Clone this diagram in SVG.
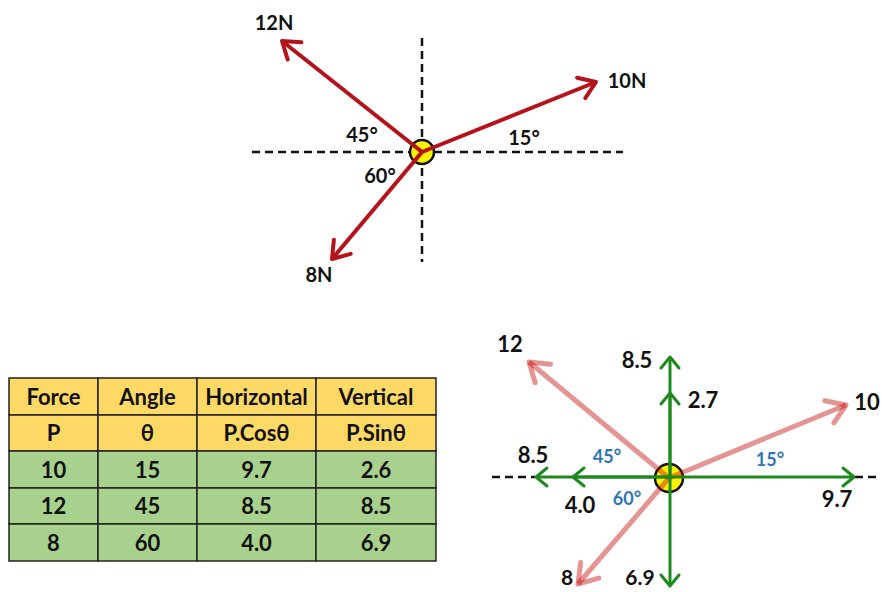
<svg xmlns="http://www.w3.org/2000/svg" width="882" height="592" viewBox="0 0 882 592">
<style>
.t{font-family:Lato,"Liberation Sans",sans-serif;font-weight:bold;fill:#111;text-anchor:middle}
.lbl{font-size:20px}
.rl{font-size:22px}
.bl{font-size:18px;fill:#2E75B6}
.tb{font-size:22px}
.dash{stroke:#111;stroke-width:2.5;stroke-dasharray:8 5;fill:none}
.red{stroke:#B5121B;stroke-width:4;fill:none}
.pink{stroke:#C00000;stroke-opacity:0.42;stroke-width:5;fill:none}
.grn{stroke:#1E8A1E;stroke-width:3;fill:none}
.hdr{fill:#FFD966;stroke:#222;stroke-width:1.5}
.cell{fill:#A9D18E;stroke:#222;stroke-width:1.5}
</style>
<defs>
<marker id="hr" markerUnits="userSpaceOnUse" viewBox="-22 -14 26 28" refX="0" refY="0" markerWidth="26" markerHeight="28" orient="auto">
<path d="M-16,-11 L0,0 L-16,11" fill="none" stroke="#B5121B" stroke-width="4" stroke-linecap="round" stroke-linejoin="round"/>
</marker>
<marker id="hp" markerUnits="userSpaceOnUse" viewBox="-24 -16 28 32" refX="0" refY="0" markerWidth="28" markerHeight="32" orient="auto">
<path d="M-18,-12 L0,0 L-18,12" fill="none" stroke="#C00000" stroke-opacity="0.42" stroke-width="5" stroke-linecap="round" stroke-linejoin="round"/>
</marker>
<marker id="hg" markerUnits="userSpaceOnUse" viewBox="-16 -12 20 24" refX="0" refY="0" markerWidth="20" markerHeight="24" orient="auto">
<path d="M-11,-9 L0,0 L-11,9" fill="none" stroke="#1E8A1E" stroke-width="3" stroke-linecap="round" stroke-linejoin="round"/>
</marker>
</defs>

<g id="top-diagram">
<g id="top-axes">
<line class="dash" x1="252" y1="152" x2="623" y2="152"/>
<line class="dash" x1="422" y1="38" x2="422" y2="262"/>
</g>
<g id="top-point">
<circle cx="422" cy="152" r="12" fill="#FFF200" stroke="#111" stroke-width="2.5"/>
</g>
<g id="top-connectors">
<line class="red" x1="422" y1="152" x2="596" y2="82" marker-end="url(#hr)"/>
<line class="red" x1="422" y1="152" x2="282" y2="41" marker-end="url(#hr)"/>
<line class="red" x1="422" y1="152" x2="332" y2="259" marker-end="url(#hr)"/>
</g>
<g id="top-labels">
<text class="t lbl" x="274" y="30">12N</text>
<text class="t lbl" x="627" y="88">10N</text>
<text class="t lbl" x="319" y="282">8N</text>
<text class="t lbl" x="362" y="142">45°</text>
<text class="t lbl" x="524" y="145">15°</text>
<text class="t lbl" x="380" y="183">60°</text>
</g>
</g>

<g id="table">
<rect class="hdr" x="9" y="378" width="89" height="37"/>
<rect class="hdr" x="98" y="378" width="99" height="37"/>
<rect class="hdr" x="197" y="378" width="119" height="37"/>
<rect class="hdr" x="316" y="378" width="120" height="37"/>
<rect class="hdr" x="9" y="415" width="89" height="36"/>
<rect class="hdr" x="98" y="415" width="99" height="36"/>
<rect class="hdr" x="197" y="415" width="119" height="36"/>
<rect class="hdr" x="316" y="415" width="120" height="36"/>
<rect class="cell" x="9" y="451" width="89" height="37"/>
<rect class="cell" x="98" y="451" width="99" height="37"/>
<rect class="cell" x="197" y="451" width="119" height="37"/>
<rect class="cell" x="316" y="451" width="120" height="37"/>
<rect class="cell" x="9" y="488" width="89" height="36"/>
<rect class="cell" x="98" y="488" width="99" height="36"/>
<rect class="cell" x="197" y="488" width="119" height="36"/>
<rect class="cell" x="316" y="488" width="120" height="36"/>
<rect class="cell" x="9" y="524" width="89" height="37"/>
<rect class="cell" x="98" y="524" width="99" height="37"/>
<rect class="cell" x="197" y="524" width="119" height="37"/>
<rect class="cell" x="316" y="524" width="120" height="37"/>
<text class="t tb" x="53.5" y="405">Force</text>
<text class="t tb" x="147.5" y="405">Angle</text>
<text class="t tb" x="256.5" y="405">Horizontal</text>
<text class="t tb" x="376" y="405">Vertical</text>
<text class="t tb" x="53.5" y="441">P</text>
<text class="t tb" x="147.5" y="441">θ</text>
<text class="t tb" x="256.5" y="441">P.Cosθ</text>
<text class="t tb" x="376" y="441">P.Sinθ</text>
<text class="t tb" x="53.5" y="478">10</text>
<text class="t tb" x="147.5" y="478">15</text>
<text class="t tb" x="256.5" y="478">9.7</text>
<text class="t tb" x="376" y="478">2.6</text>
<text class="t tb" x="53.5" y="514">12</text>
<text class="t tb" x="147.5" y="514">45</text>
<text class="t tb" x="256.5" y="514">8.5</text>
<text class="t tb" x="376" y="514">8.5</text>
<text class="t tb" x="53.5" y="551">8</text>
<text class="t tb" x="147.5" y="551">60</text>
<text class="t tb" x="256.5" y="551">4.0</text>
<text class="t tb" x="376" y="551">6.9</text>
</g>

<g id="right-diagram">
<g id="right-axes">
<line class="dash" x1="492" y1="477" x2="535" y2="477"/>
<line class="dash" x1="855" y1="477" x2="878" y2="477"/>
</g>
<g id="right-point">
<circle cx="669" cy="478" r="14" fill="#FFF200" stroke="#111" stroke-width="2.5"/>
</g>
<g id="right-connectors">
<line class="pink" x1="669" y1="478" x2="529" y2="362" marker-end="url(#hp)"/>
<line class="pink" x1="669" y1="478" x2="846" y2="405" marker-end="url(#hp)"/>
<line class="pink" x1="669" y1="478" x2="578" y2="584" marker-end="url(#hp)"/>
<line class="grn" x1="669" y1="477" x2="536" y2="477" marker-end="url(#hg)"/>
<line class="grn" x1="669" y1="477" x2="573" y2="477" marker-end="url(#hg)"/>
<line class="grn" x1="669" y1="477" x2="854" y2="477" marker-end="url(#hg)"/>
<line class="grn" x1="670" y1="478" x2="670" y2="357" marker-end="url(#hg)"/>
<line class="grn" x1="670" y1="478" x2="670" y2="393" marker-end="url(#hg)"/>
<line class="grn" x1="670" y1="478" x2="670" y2="586" marker-end="url(#hg)"/>
</g>
<g id="right-labels">
<text class="t rl" x="510" y="352">12</text>
<text class="t rl" x="637" y="368">8.5</text>
<text class="t rl" x="703" y="408">2.7</text>
<text class="t rl" x="867" y="410">10</text>
<text class="t rl" x="533" y="463">8.5</text>
<text class="t bl" x="607" y="463">45°</text>
<text class="t bl" x="770" y="466">15°</text>
<text class="t rl" x="580" y="513">4.0</text>
<text class="t bl" x="627" y="505">60°</text>
<text class="t rl" x="837" y="507">9.7</text>
<text class="t" style="font-size:21px" x="567" y="585">8</text>
<text class="t" style="font-size:21px" x="640" y="585">6.9</text>
</g>
</g>
</svg>
